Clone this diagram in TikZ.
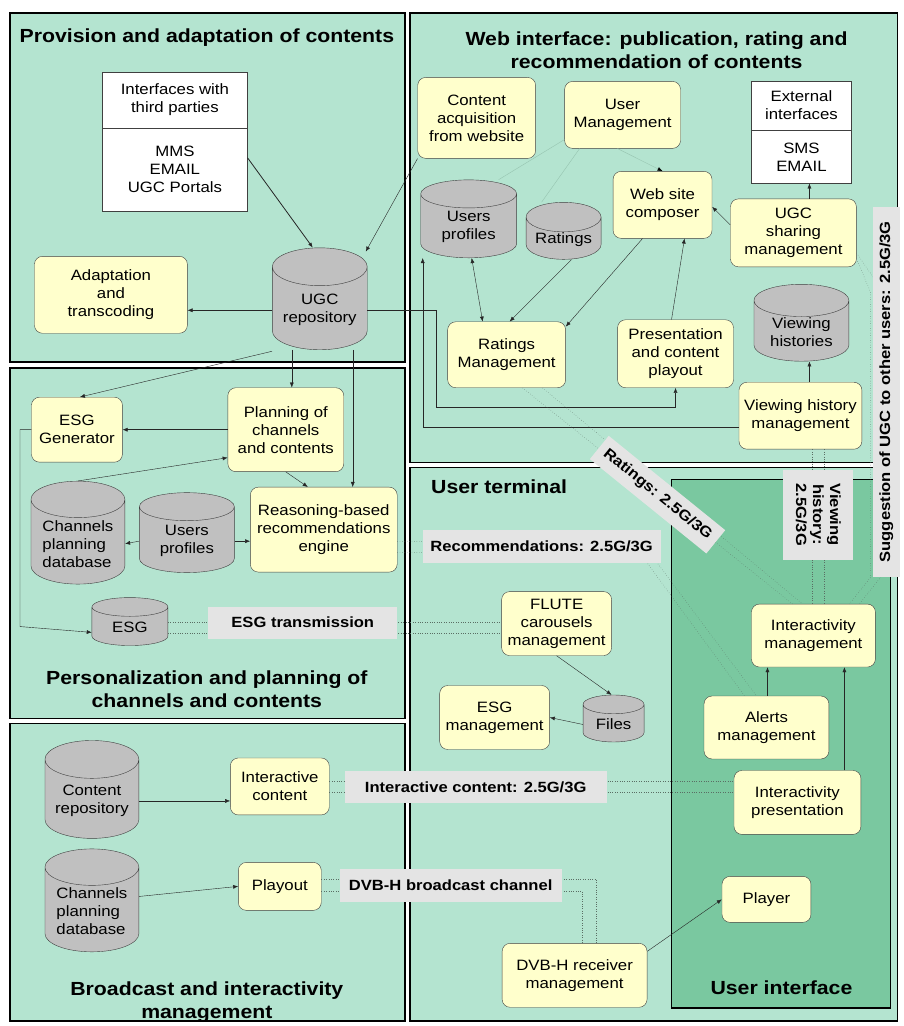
\documentclass[tikz,border=0pt]{standalone}
\usepackage{fontspec}
\setmainfont{Liberation Sans}[FakeStretch=1.12]
\usetikzlibrary{positioning,shapes.geometric,arrows.meta}

\definecolor{areagreen}{RGB}{180,228,208}
\definecolor{uigreen}{RGB}{122,200,160}
\definecolor{nodeyellow}{RGB}{255,255,204}
\definecolor{storegray}{RGB}{192,192,192}
\definecolor{taggray}{RGB}{228,228,228}
\definecolor{dotgray}{RGB}{90,110,100}
\definecolor{weakgreen}{RGB}{150,196,176}

\begin{document}
\begin{tikzpicture}[x=1pt, y=-1pt,
  dims/.style 2 args={minimum width=#1pt, minimum height=#2pt},
  area/.style={draw=black, line width=1.6pt, fill=areagreen},
  proc/.style={draw=black!75, fill=nodeyellow, rounded corners=8pt, align=center,
    inner sep=2pt, font=\fontsize{15}{18}\selectfont},
  iface/.style={draw=black!75, fill=white, align=center, inner sep=2pt,
    font=\fontsize{15}{18}\selectfont},
  store/.style={cylinder, shape border rotate=90, aspect=0.5, anchor=shape center,
    draw=black!75, fill=storegray, align=center, inner sep=1pt,
    font=\fontsize{15}{18}\selectfont},
  tag/.style={fill=taggray, inner sep=2pt, align=center,
    font=\fontsize{14.8}{17}\bfseries},
  areatitle/.style={align=center, font=\fontsize{19}{23}\bfseries},
  flow/.style={-{Latex[length=5pt,width=4pt]}, black!85},
  twoway/.style={{Latex[length=5pt,width=4pt]}-{Latex[length=5pt,width=4pt]}, black!85},
  weak/.style={weakgreen},
  link/.style={dotted, dotgray}]

\fill[white](0,0) rectangle (904,1026);

%% areas
\draw[area](10,13) rectangle (405,362);
\draw[area](410,13) rectangle (898,463);
\draw[area](10,368) rectangle (405,719);
\draw[area](10,724) rectangle (405,1022);
\draw[area](410,468) rectangle (898,1022);
\draw[area, fill=uigreen](672,480) rectangle (891,1009);

%% provision and adaptation
\node[areatitle] (tprov) at (207,38) {Provision and adaptation of contents};
\node[iface, dims={145}{56}] (thirdtop) at (175,100) {Interfaces with\\third parties};
\node[iface, dims={145}{83}, below=0pt of thirdtop] (third) {MMS\\EMAIL\\UGC Portals};
\node[store, dims={95}{102}] (ugc) at (320,299) {UGC\\repository};
\node[proc, dims={153}{77}] (adapt) at (111,295) {Adaptation\\and\\transcoding};

%% web interface
\node[areatitle] (tweb) at (657,50) {Web interface: publication, rating and\\recommendation of contents};
\node[proc, dims={118}{81}] (acq) at (477,118) {Content\\acquisition\\from website};
\node[proc, dims={116}{67}] (usrmgmt) at (623,115) {User\\Management};
\node[iface, dims={100}{49}] (exttop) at (802,105.5) {External\\interfaces};
\node[iface, dims={100}{53}, below=0pt of exttop] (ext) {SMS\\EMAIL};
\node[store, dims={96}{78}] (uprof) at (469,219) {Users\\profiles};
\node[store, dims={75}{48}] (ratings) at (564,231) {Ratings};
\node[proc, dims={99}{67}] (composer) at (663,205) {Web site\\composer};
\node[proc, dims={126}{68}] (ugcshare) at (794,233) {UGC\\sharing\\management};
\node[store, dims={95}{77}] (vhist) at (802,323) {Viewing\\histories};
\node[proc, dims={118}{66}] (ratmgmt) at (507,355) {Ratings\\Management};
\node[proc, dims={116}{68}] (present) at (676,354) {Presentation\\and content\\playout};
\node[proc, dims={123}{67}] (vhmgmt) at (801,416) {Viewing history\\management};

%% personalization and planning
\node[areatitle] (tpers) at (207,690) {Personalization and planning of\\channels and contents};
\node[proc, dims={91}{65}] (esggen) at (77,430) {ESG\\Generator};
\node[proc, dims={116}{84}] (plan) at (286,430) {Planning of\\channels\\and contents};
\node[store, dims={94}{103}, align=left] (chdb) at (78,533) {Channels\\planning\\database};
\node[store, dims={95}{80}] (uprofb) at (187,533) {Users\\profiles};
\node[proc, dims={147}{85}] (reason) at (324,530) {Reasoning-based\\recommendations\\engine};
\node[store, dims={76}{48}] (esg) at (130,622) {ESG};

%% broadcast and interactivity
\node[areatitle] (tbcast) at (207,1003) {Broadcast and interactivity\\management};
\node[store, dims={94}{98}] (contrepo) at (92,790) {Content\\repository};
\node[store, dims={94}{103}, align=left] (chdbb) at (92,901) {Channels\\planning\\database};
\node[proc, dims={99}{57}] (intcont) at (280,787) {Interactive\\content};
\node[proc, dims={83}{48}] (playout) at (280,887) {Playout};

%% user terminal
\node[areatitle, anchor=west] (tterm) at (428,487) {User terminal};
\node[proc, dims={110}{64}] (flute) at (557,624) {FLUTE\\carousels\\management};
\node[proc, dims={110}{64}] (esgmgmt) at (495,718) {ESG\\management};
\node[store, dims={61}{47}] (files) at (614,719) {Files};
\node[proc, dims={145}{64}] (dvbh) at (575,976) {DVB-H receiver\\management};

%% user interface
\node[areatitle] (tui) at (782,988) {User interface};
\node[proc, dims={124}{63}] (intmgmt) at (814,636) {Interactivity\\management};
\node[proc, dims={125}{63}] (alerts) at (767,728) {Alerts\\management};
\node[proc, dims={127}{64}] (intpres) at (798,803) {Interactivity\\presentation};
\node[proc, dims={89}{46}] (player) at (767,900) {Player};

%% arrows
\draw[flow, thick]([yshift=12pt]third.east) -- ([xshift=-7pt]ugc.north);
\draw[flow](acq.south west) -- ([xshift=46pt, yshift=-4pt]ugc.north);
\draw[flow](ugc.west) -- (ugc.west -| adapt.east);
\coordinate (bendA) at (437,407);
\draw[flow](ugc.east) -| (bendA) -| (present.south);
\coordinate (bendB) at (423,428);
\draw[flow]([yshift=-12pt]vhmgmt.west) -- (bendB) -- (bendB |- uprof.south);

\draw[weak]([yshift=9pt]usrmgmt.south west) -- ([xshift=30pt]uprof.north);
\draw[weak]([xshift=-43pt]usrmgmt.south) -- ([xshift=-22pt]ratings.north);
\draw[weak, -{Latex[length=5pt,width=4pt,color=black]}]([xshift=-5pt]usrmgmt.south) -- (composer.north);
\draw[flow]([yshift=8pt]ugcshare.west) -- ([yshift=-2pt]composer.east);
\draw[flow]([xshift=16pt]ugcshare.north) -- ([xshift=8pt]ext.south);
\draw[flow]([xshift=-20pt]composer.south) -- ([yshift=-5pt]ratmgmt.north east);
\draw[flow]([xshift=8pt]ratings.south) -- ([xshift=3pt]ratmgmt.north);
\draw[twoway]([xshift=3pt]uprof.south) -- ([xshift=-24pt]ratmgmt.north);
\draw[flow]([xshift=-4pt]present.north) -- ([xshift=22pt]composer.south);
\draw[flow]([xshift=9pt]vhmgmt.north) -- ([xshift=8pt]vhist.south);

\draw[flow]([yshift=-41pt]ugc.west) -- ([xshift=3pt]esggen.north);
\draw[flow]([xshift=-28pt]ugc.south) -- ([xshift=6pt]plan.north);
\draw[flow]([xshift=33pt]ugc.south) -- ([xshift=29pt]reason.north);
\draw[flow](plan.west) -- (esggen.east);
\draw[flow](chdb.north) -- ([yshift=-28pt]plan.west);
\draw[flow](plan.south) -- ([xshift=-16pt]reason.north);
\draw[flow](uprofb.west) -- (chdb.east);
\draw[flow](uprofb.east) -- (uprofb.east -| reason.west);
\coordinate (bendC) at (20,627);
\draw[flow](esggen.west) -| (bendC) -- ([yshift=-5pt]esg.west);

\draw[flow](contrepo.east) -- (contrepo.east -| intcont.west);
\draw[flow]([yshift=15pt]chdbb.east) -- (playout.west);

\draw[flow](flute.south) -- ([xshift=-2pt]files.north);
\draw[flow](files.west) -- (esgmgmt.east);
\draw[flow]([xshift=1pt]alerts.north) -- ([xshift=-46pt]intmgmt.south);
\draw[flow]([xshift=47pt]intpres.north) -- ([xshift=31pt]intmgmt.south);
\draw[flow]([yshift=24pt]dvbh.east) -- (player.west);

%% dotted links
\coordinate (recoA) at (632,542);
\coordinate (recoB) at (650,553);
\draw[link]([yshift=-12pt]reason.east) -- (recoA) -- ([xshift=-22pt]alerts.north);
\draw[link]([yshift=-23pt]reason.east) -- (recoB) -- ([xshift=-10pt]alerts.north);
\draw[link]([xshift=16pt]ratmgmt.south) -- ([xshift=-21pt]intmgmt.north);
\draw[link]([xshift=36pt]ratmgmt.south) -- ([xshift=-11pt]intmgmt.north);
\draw[link]([xshift=12pt]vhmgmt.south) -- ([xshift=12pt]vhmgmt.south |- intmgmt.north);
\draw[link]([xshift=24pt]vhmgmt.south) -- ([xshift=24pt]vhmgmt.south |- intmgmt.north);
\coordinate (sugA) at (871,292);
\coordinate (sugB) at (871,578);
\coordinate (sugC) at (881,288);
\coordinate (sugD) at (881,578);
\draw[link]([yshift=8pt]ugcshare.south east) -- (sugA) -- (sugB) -- ([xshift=36pt]intmgmt.north);
\draw[link]([yshift=14pt]ugcshare.south east) -- (sugC) -- (sugD) -- ([xshift=46pt]intmgmt.north);
\draw[link]([yshift=5pt]esg.east) -- ([yshift=5pt]esg.east -| flute.west);
\draw[link]([yshift=-6pt]esg.east) -- ([yshift=-6pt]esg.east -| flute.west);
\draw[link]([yshift=5pt]intcont.east) -- ([yshift=5pt]intcont.east -| intpres.west);
\draw[link]([yshift=-6pt]intcont.east) -- ([yshift=-6pt]intcont.east -| intpres.west);
\draw[link]([yshift=7pt]playout.east) -| ([xshift=22pt]dvbh.north);
\draw[link]([yshift=-5pt]playout.east) -| ([xshift=8pt]dvbh.north);

%% channel tags
\node[tag, dims={189}{32}] (esgtx) at (303,623) {ESG transmission};
\node[tag, dims={238}{33}] (recotag) at (542,547) {Recommendations: 2.5G/3G};
\node[tag, dims={262}{32}] (intctag) at (476,788) {Interactive content: 2.5G/3G};
\node[tag, dims={222}{33}] (dvbtag) at (451,886) {DVB-H broadcast channel};
\node[tag, dims={150}{30}, rotate=-39] (rattag) at (658,495) {Ratings: 2.5G/3G};
\node[tag, dims={90}{70}, rotate=-90] (vhtag) at (819,515) {Viewing\\history:\\2.5G/3G};
\node[tag, dims={370}{27}, rotate=90] (sugtag) at (887,392) {Suggestion of UGC to other users: 2.5G/3G};
\end{tikzpicture}
\end{document}
